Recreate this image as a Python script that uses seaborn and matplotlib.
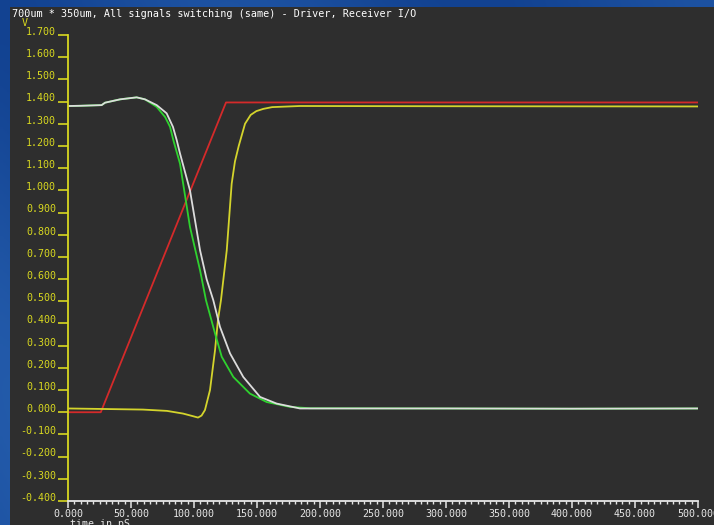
import numpy as np
import pandas as pd
import matplotlib
matplotlib.use("Agg")
import matplotlib.pyplot as plt
import matplotlib.transforms as mtransforms
from matplotlib.patches import Rectangle
from matplotlib.ticker import MultipleLocator
import seaborn as sns

# ---------------- data ----------------
title = "700um * 350um, All signals switching (same) - Driver, Receiver I/O"
y_unit = "V"
x_title = "time in pS"

x_ticks = [0, 50, 100, 150, 200, 250, 300, 350, 400, 450, 500]
y_ticks = [-0.4, -0.3, -0.2, -0.1, 0.0, 0.1, 0.2, 0.3, 0.4, 0.5, 0.6,
           0.7, 0.8, 0.9, 1.0, 1.1, 1.2, 1.3, 1.4, 1.5, 1.6, 1.7]

# driver input (red ramp)
red_x = [0, 26, 125.4, 500]
red_y = [0.0, 0.0, 1.396, 1.396]

# receiver (yellow)
yellow_x = [0, 59.5, 78.6, 91.3, 98.0, 103.2, 106.0, 108.7, 112.7, 116.7,
            119.0, 121.4, 126.0, 129.9, 132.5, 135.5, 140.5, 145.0, 149.5,
            155.0, 162.0, 184, 300, 500]
yellow_y = [0.017, 0.012, 0.006, -0.006, -0.016, -0.024, -0.015, 0.01, 0.1, 0.28,
            0.415, 0.505, 0.73, 1.03, 1.13, 1.2, 1.3, 1.34, 1.357,
            1.367, 1.375, 1.38, 1.379, 1.378]

# driver output (green)
green_x = [0, 9.5, 26.7, 29.4, 41.3, 54.5, 61.1, 70.4, 77.1, 81.0, 83.6,
           88.9, 96.8, 104.8, 109.5, 116.7, 122.0, 131.2, 144.4, 157.7,
           176.2, 192, 300, 400, 500]
green_y = [1.38, 1.381, 1.384, 1.395, 1.41, 1.419, 1.41, 1.376, 1.33, 1.286, 1.226,
           1.12, 0.835, 0.64, 0.505, 0.355, 0.25, 0.159, 0.084, 0.046,
           0.024, 0.018, 0.017, 0.016, 0.017]

# receiver I/O (white)
white_x = [0, 9.5, 26.7, 29.4, 41.3, 54.5, 61.1, 70.4, 78.3, 83.3, 86.3,
           88.9, 96.8, 104.8, 110.0, 115.3, 120.6, 128.6, 139.1, 152.4,
           165.6, 184.1, 300, 400, 500]
white_y = [1.38, 1.381, 1.384, 1.395, 1.41, 1.419, 1.41, 1.384, 1.347, 1.286, 1.226,
           1.166, 1.0, 0.73, 0.6, 0.505, 0.385, 0.265, 0.159, 0.069,
           0.039, 0.017, 0.017, 0.016, 0.017]

# ---------------- style ----------------
plt.rcParams['font.family'] = ['DejaVu Sans Mono']
plt.rcParams['axes.unicode_minus'] = False

W, H = 714, 525
fig = plt.figure(figsize=(W / 100, H / 100), dpi=100)

# blue background with a dark panel
bg = fig.add_axes([0, 0, 1, 1])
gy, gx = np.mgrid[0:1:200j, 0:1:200j]
grad = np.zeros((200, 200, 3))
base = np.array([18, 66, 145]) / 255.0
light = np.array([40, 98, 178]) / 255.0
t = (0.5 + 0.5 * np.sin(gx * 9 + gy * 5)) * 0.5 + (1 - gy) * 0.35
for c in range(3):
    grad[..., c] = base[c] + (light[c] - base[c]) * t
bg.imshow(grad, extent=[0, 1, 0, 1], aspect='auto', origin='lower')
bg.add_patch(Rectangle((10 / W, 0), 1 - 10 / W, (H - 7) / H,
                       facecolor='#2e2e2e', edgecolor='none'))
bg.set_xlim(0, 1)
bg.set_ylim(0, 1)
bg.axis('off')

# main axes
left, right, top, bottom = 68, 698, 35, 501
ax = fig.add_axes([left / W, (H - bottom) / H, (right - left) / W, (bottom - top) / H])
ax.set_facecolor('none')

lw = 1.3
sns.lineplot(x=red_x, y=red_y, ax=ax, color='#d42a2a', lw=lw, sort=False, estimator=None)
sns.lineplot(x=yellow_x, y=yellow_y, ax=ax, color='#d4d42c', lw=lw, sort=False, estimator=None)
sns.lineplot(x=green_x, y=green_y, ax=ax, color='#2ed22e', lw=lw, sort=False, estimator=None)
sns.lineplot(x=white_x, y=white_y, ax=ax, color='#dcdcdc', lw=lw, sort=False, estimator=None)

ax.set_xlim(0, 500)
ax.set_ylim(-0.4, 1.7)

yellow_axis = '#d8d820'
for s in ['top', 'right']:
    ax.spines[s].set_visible(False)
ax.spines['left'].set_color(yellow_axis)
ax.spines['left'].set_linewidth(1.3)
ax.spines['bottom'].set_color('#e6e6e6')
ax.spines['bottom'].set_linewidth(1.3)

ax.set_yticks(y_ticks)
ax.set_yticklabels([f"{v:.3f}" for v in y_ticks])
ax.set_xticks(x_ticks)
ax.set_xticklabels([f"{v:.3f}" for v in x_ticks])
ax.xaxis.set_minor_locator(MultipleLocator(5))

ax.tick_params(axis='y', colors=yellow_axis, labelcolor=yellow_axis, length=7.5,
               width=1.2, direction='out', pad=1, labelsize=7.2)
ax.tick_params(axis='x', which='major', colors='#e6e6e6', labelcolor='#e6e6e6',
               length=5.0, width=1.1, direction='out', pad=0.5, labelsize=7.2)
ax.tick_params(axis='x', which='minor', colors='#e6e6e6', length=2.5, width=1.0,
               direction='out')
ax.set_xlabel('')
ax.set_ylabel('')

offset = mtransforms.ScaledTranslation(0, 3 / 72, fig.dpi_scale_trans)
for lab in ax.get_yticklabels():
    lab.set_transform(lab.get_transform() + offset)

fig.text(12 / W, 1 - 14 / H, title, color='white', fontsize=7.3, va='center', ha='left')
fig.text(22 / W, 1 - 23 / H, y_unit, color=yellow_axis, fontsize=7.2, va='center', ha='left')
fig.text(70 / W, 1 - 519 / H, x_title, color='#e6e6e6', fontsize=7.2, va='top', ha='left')

fig.savefig('out.png', dpi=100)
